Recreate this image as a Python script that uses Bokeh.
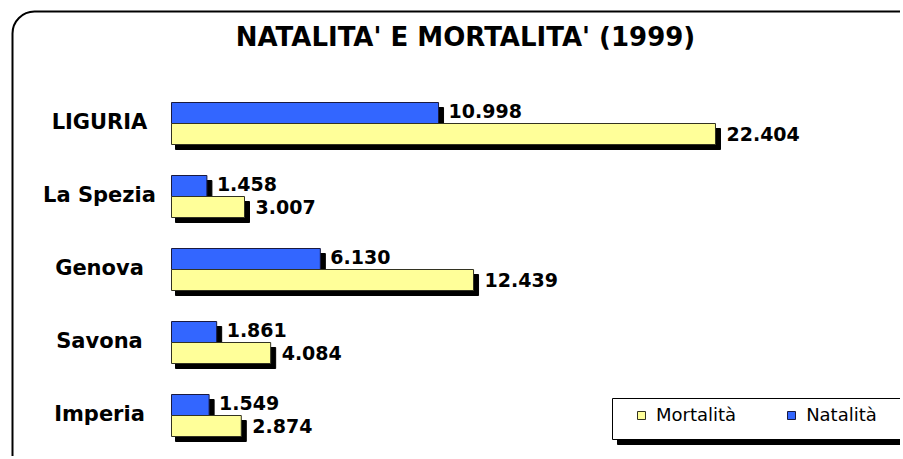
from bokeh.plotting import figure
from bokeh.models import ColumnDataSource, Range1d, BoxAnnotation, Legend, LegendItem
from bokeh.transform import dodge
from bokeh.core.properties import value
from bokeh.embed import file_html
from bokeh.resources import INLINE

# ---- data ----
title = "NATALITA'  E  MORTALITA' (1999)"
categories = ["Imperia", "Savona", "Genova", "La Spezia", "LIGURIA"]
natalita = [1549, 1861, 6130, 1458, 10998]
mortalita = [2874, 4084, 12439, 3007, 22404]
series_names = ["Mortalità", "Natalità"]


def fmt(v):
    return f"{v:,}".replace(",", ".")


# ---- geometry (styling) ----
W, H = 900, 456
XS = 0.024281          # px per person
X0 = 171               # px of zero
YS = 73.0              # px per category
Y0 = 415               # px of first category centre
TXT = 8.5              # text baseline correction (px)


def dx(px):
    return px / XS


def dy(px):
    return px / YS


x_start = -X0 / XS
x_end = (W - X0) / XS
y_start = (Y0 - H) / YS
y_end = Y0 / YS

src = ColumnDataSource(dict(
    cat=categories,
    pos=list(range(len(categories))),
    nat=natalita,
    mor=mortalita,
    nat_lbl=[fmt(v) for v in natalita],
    mor_lbl=[fmt(v) for v in mortalita],
))

p = figure(width=W, height=H, x_range=Range1d(x_start, x_end),
           y_range=Range1d(y_start, y_end), output_backend="svg",
           toolbar_location=None, min_border=0, x_axis_location=None,
           y_axis_location=None, title=None, outline_line_color=None,
           background_fill_color="white", border_fill_color="white")
p.grid.visible = False

BH = dy(21)
OFF = dy(10.5)
SHX = dx(5)
SHY = dy(5)
FONT = value("DejaVu Sans")

# shadows
for fld, off in (("nat", OFF), ("mor", -OFF)):
    p.hbar(y=dodge("pos", off - SHY), left=dx(4), right=dodge(fld, SHX),
           height=BH, source=src, fill_color="black", line_color="black")

r_nat = p.hbar(y=dodge("pos", OFF), left=0, right="nat", height=BH, source=src,
               fill_color="#3366FF", line_color="#1a1a40", line_width=1)
r_mor = p.hbar(y=dodge("pos", -OFF), left=0, right="mor", height=BH, source=src,
               fill_color="#FFFF99", line_color="#333322", line_width=1)

# value labels
p.text(x=dodge("nat", dx(10)), y=dodge("pos", OFF - dy(6.5 - TXT)), text="nat_lbl",
       source=src, text_font=FONT, text_font_style="bold", text_font_size="19px",
       text_baseline="alphabetic", text_align="left", text_color="black")
p.text(x=dodge("mor", dx(11)), y=dodge("pos", -OFF - dy(8.5 - TXT)), text="mor_lbl",
       source=src, text_font=FONT, text_font_style="bold", text_font_size="19px",
       text_baseline="alphabetic", text_align="left", text_color="black")

# category labels
p.text(x=dx(99 - X0), y=dodge("pos", -dy(7 - TXT)), text="cat", source=src,
       text_font=FONT, text_font_style="bold", text_font_size="21px",
       text_baseline="alphabetic", text_align="center", text_color="black")

# title
p.text(x=[dx(474 - X0)], y=[dy(Y0 - 45 + TXT)], text=[title], text_font=FONT,
       text_font_style="bold", text_font_size="26px", text_baseline="alphabetic",
       text_align="center", text_color="black")

# legend box with shadow
p.quad(left=dx(617 - X0), right=x_end + dx(50), top=dy(Y0 - 403), bottom=dy(Y0 - 444),
       fill_color="black", line_color="black")
p.quad(left=dx(612 - X0), right=x_end + dx(50), top=dy(Y0 - 398), bottom=dy(Y0 - 439),
       fill_color="white", line_color="black", line_width=1)

legend = Legend(items=[LegendItem(label=series_names[0], renderers=[r_mor]),
                       LegendItem(label=series_names[1], renderers=[r_nat])],
                orientation="horizontal", location=(636, H - 425), padding=0, margin=0,
                border_line_color=None, background_fill_alpha=0,
                label_text_font="DejaVu Sans", label_text_font_size="18px",
                label_text_color="black",
                glyph_width=10, glyph_height=10, label_standoff=10, spacing=50)
p.add_layout(legend)

# rounded outer border
p.add_layout(BoxAnnotation(left=dx(12 - X0), right=x_end + dx(100),
                           top=dy(Y0 - 11), bottom=y_start - 2,
                           fill_color=None, line_color="black", line_width=2,
                           line_alpha=1.0, border_radius=22))

open("out.html", "w").write(file_html(p, INLINE))
